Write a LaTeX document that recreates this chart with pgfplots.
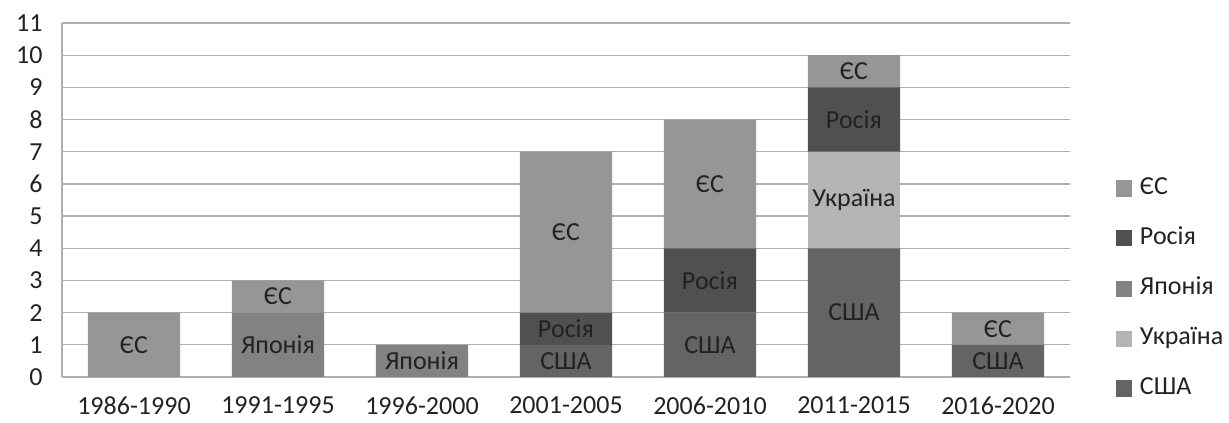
\documentclass[border=0pt]{standalone}
\usepackage{pgfplots}
\pgfplotsset{compat=1.18}
\usepackage{fontspec}
\setmainfont{Carlito}
\definecolor{cES}{HTML}{969696}
\definecolor{cRU}{HTML}{505050}
\definecolor{cJP}{HTML}{828282}
\definecolor{cUA}{HTML}{B4B4B4}
\definecolor{cUS}{HTML}{646464}
\definecolor{cGrid}{HTML}{B0B0B0}
\definecolor{cTxt}{HTML}{222222}
\begin{document}
\begin{tikzpicture}
\path[use as bounding box] (-62pt,-46pt) rectangle (1167pt,377pt);
\pgfplotsset{
  base/.style={
    scale only axis, width=1008pt, height=354pt,
    at={(0pt,0pt)}, anchor=south west,
    xmin=-0.5, xmax=6.5, ymin=0, ymax=11,
    font=\fontsize{26}{30}\selectfont, text=cTxt,
    /pgf/number format/assume math mode=true,
  }
}
\begin{axis}[base,
  ybar stacked, bar width=0.64,
  axis x line=bottom, axis y line=left,
  axis line style={cGrid, line width=1.2pt, -},
  ymajorgrids, grid style={cGrid, line width=1.2pt},
  major tick length=0pt,
  ytick={0,...,11},
  yticklabel style={anchor=east, xshift=-16pt},
  xtick={0,...,6},
  xticklabels={1986-1990,1991-1995,1996-2000,2001-2005,2006-2010,2011-2015,2016-2020},
  xticklabel style={yshift=-16pt},
  reverse legend,
  legend cell align=left,
  legend style={draw=none, fill=none, inner sep=0pt, outer sep=0pt,
    at={(axis description cs:1.0456,0.25)}, anchor=west,
    row sep=26pt, column sep=0pt,
    nodes={inner sep=0pt, text height=18pt, text depth=6pt, font=\fontsize{26}{30}\selectfont},
    /tikz/every odd column/.append style={column sep=8pt}},
  legend image code/.code={\fill[#1] (0pt,-8pt) rectangle (16pt,8pt);},
]
\addplot[fill=cUS, draw=none] coordinates {(0,0) (1,0) (2,0) (3,1) (4,2) (5,4) (6,1)};
\addlegendentry{США}
\addplot[fill=cUA, draw=none] coordinates {(0,0) (1,0) (2,0) (3,0) (4,0) (5,3) (6,0)};
\addlegendentry{Україна}
\addplot[fill=cJP, draw=none] coordinates {(0,0) (1,2) (2,1) (3,0) (4,0) (5,0) (6,0)};
\addlegendentry{Японія}
\addplot[fill=cRU, draw=none] coordinates {(0,0) (1,0) (2,0) (3,1) (4,2) (5,2) (6,0)};
\addlegendentry{Росія}
\addplot[fill=cES, draw=none] coordinates {(0,2) (1,1) (2,0) (3,5) (4,4) (5,1) (6,1)};
\addlegendentry{ЄС}
\end{axis}
\begin{axis}[base, hide axis]
\addplot[only marks, mark=none, nodes near coords, point meta=explicit symbolic,
  nodes near coords style={anchor=center, font=\fontsize{26}{30}\selectfont, text=cTxt}]
table[meta=t] {
x y t
0 1 ЄС
1 1 Японія
1 2.5 ЄС
2 0.5 Японія
3 0.5 США
3 1.5 Росія
3 4.5 ЄС
4 1 США
4 3 Росія
4 6 ЄС
5 2 США
5 5.5 Україна
5 8 Росія
5 9.5 ЄС
6 0.5 США
6 1.5 ЄС
};
\end{axis}
\end{tikzpicture}
\end{document}
